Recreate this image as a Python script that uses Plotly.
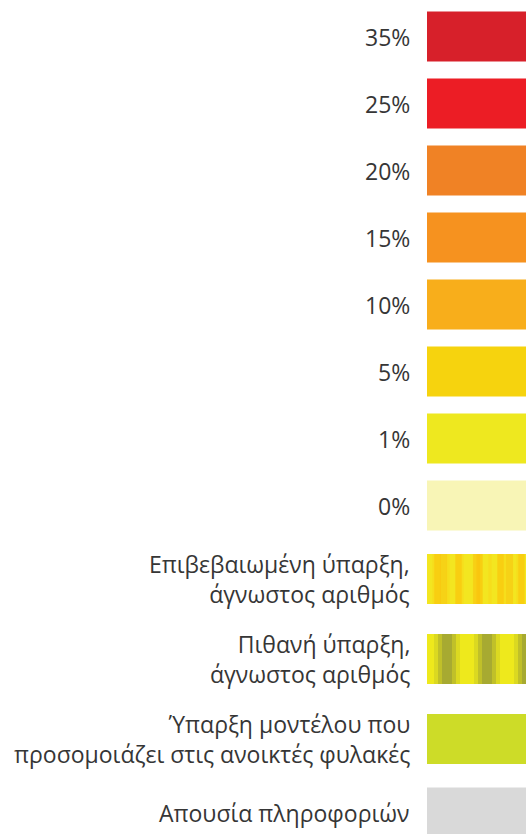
import plotly.graph_objects as go

# ---- data ----
labels = [
    "35%", "25%", "20%", "15%", "10%", "5%", "1%", "0%",
    "Επιβεβαιωμένη ύπαρξη,<br>άγνωστος αριθμός",
    "Πιθανή ύπαρξη,<br>άγνωστος αριθμός",
    "Ύπαρξη μοντέλου που<br>προσομοιάζει στις ανοικτές φυλακές",
    "Απουσία πληροφοριών",
]
swatch_value = [1] * len(labels)

# ---- styles ----
fill_colors = [
    "#D7202A", "#EC1D25", "#F08225", "#F6921F", "#F8AE1B", "#F6D30E",
    "#EEE81F", "#F8F5B6", "#F3E620", "#EEE91C", "#CDDC28", "#D9D9D9",
]
# stripe overlays (list of pattern layers drawn above the base fill)
stripe_layers = [[]] * 8 + [
    [
        dict(shape="|", fgcolor="rgba(251,196,10,0.7)", size=21, solidity=0.3),
        dict(shape="|", fgcolor="rgba(250,190,12,0.5)", size=33, solidity=0.22),
        dict(shape="|", fgcolor="rgba(252,200,14,0.3)", size=14, solidity=0.25),
    ],
    [
        dict(shape="|", fgcolor="rgba(195,198,40,0.45)", size=40, solidity=0.65),
        dict(shape="|", fgcolor="rgba(165,168,50,0.5)", size=40, solidity=0.45),
        dict(shape="|", fgcolor="rgba(150,155,55,0.6)", size=40, solidity=0.25),
    ],
    [], [],
]

# ---- layout geometry (pixels) ----
W, H = 526, 834
first_center = 36.5
base_step = 67.0
extra_per_line = 6.5
bar_h = 50
swatch_left = 427
label_right = 412

nlines = [lab.count("<br>") + 1 for lab in labels]
centers = [first_center]
for i in range(1, len(labels)):
    centers.append(centers[-1] + base_step + extra_per_line * ((nlines[i - 1] - 1) + (nlines[i] - 1)))

fig = go.Figure()
for i, lab in enumerate(labels):
    fig.add_trace(go.Bar(
        x=[swatch_value[i]], y=[centers[i]], orientation="h",
        width=bar_h, marker=dict(color=fill_colors[i], line=dict(width=0)),
        hoverinfo="skip", showlegend=False,
    ))
    for pat in stripe_layers[i]:
        p = dict(pat)
        p.update(bgcolor="rgba(0,0,0,0)", fillmode="replace")
        fig.add_trace(go.Bar(
            x=[swatch_value[i]], y=[centers[i]], orientation="h",
            width=bar_h,
            marker=dict(color="rgba(0,0,0,0)", line=dict(width=0), pattern=p),
            hoverinfo="skip", showlegend=False,
        ))
    fig.add_annotation(
        x=label_right / W, xref="paper", y=centers[i], yref="y",
        text=lab, showarrow=False, xanchor="right", yanchor="middle", align="right",
        font=dict(family="Open Sans", size=23, color="#363636"),
    )

fig.update_layout(
    width=W, height=H, margin=dict(l=0, r=0, t=0, b=0),
    paper_bgcolor="white", plot_bgcolor="white", barmode="overlay",
    xaxis=dict(domain=[swatch_left / W, 1], range=[0, 1], visible=False, fixedrange=True),
    yaxis=dict(range=[H, 0], visible=False, fixedrange=True),
)

fig.write_html("out.html")
